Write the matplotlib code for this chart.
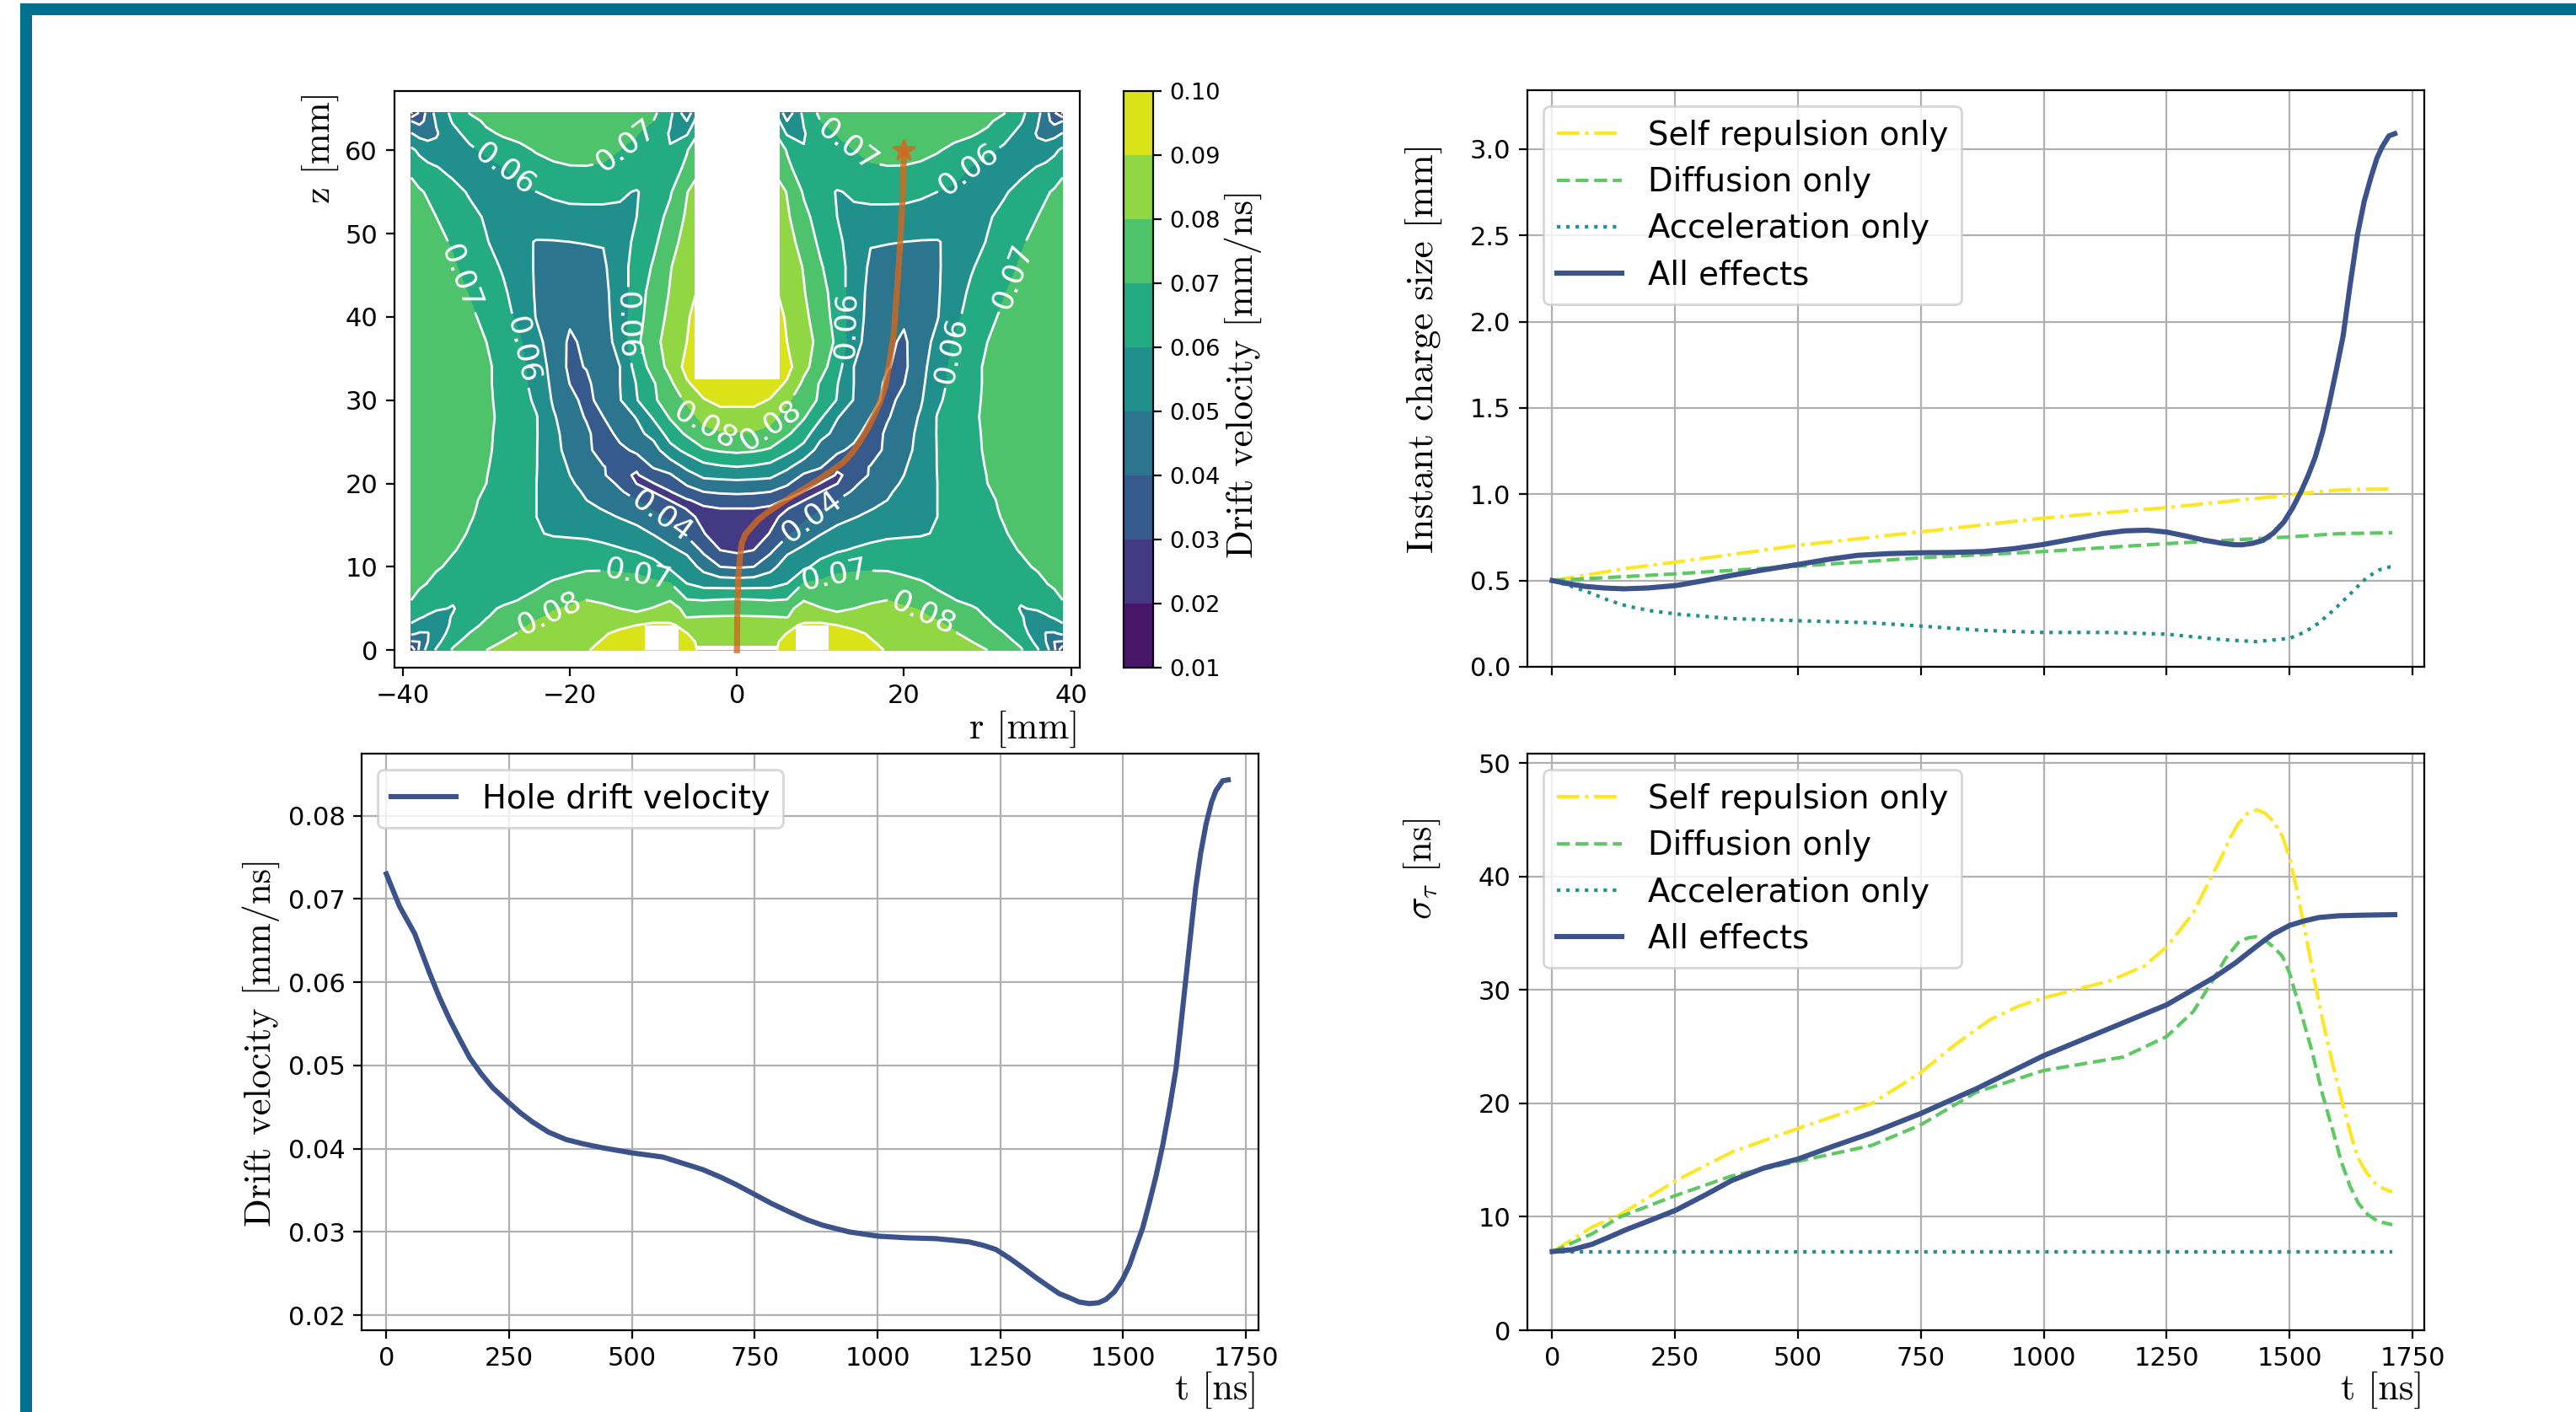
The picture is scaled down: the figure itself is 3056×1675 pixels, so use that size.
import numpy as np
import matplotlib
matplotlib.use('Agg')
import matplotlib.pyplot as plt
from matplotlib.patches import Rectangle

# drift velocity, right half only (mirrored in r), units 1e-3 mm/ns
r_half = [0, 2, 4, 6, 8, 10, 12, 14, 16, 18, 20, 22, 24, 26, 28, 30, 32, 34, 36, 37, 38, 39]
z_rows = [0, 1, 2, 3, 4, 5, 6, 8, 10, 12, 14, 16, 17, 18, 19, 20, 21, 22, 24, 26, 28, 30, 32, 34, 37, 40, 43,
          46, 49, 52, 55, 58, 60, 62, 63.5, 64.5]
v_map = [
    [85, 86, 88, 93, 95, 95, 94, 93, 92, 89.5, 88, 86.5, 85, 83.5, 81.5, 80, 76, 71, 61, 54, 43, 20],
    [84, 85, 88, 92, 94, 95, 94, 92.5, 90.5, 88.5, 87, 85.5, 84, 82, 80.3, 77, 73, 68, 57, 50, 40, 39],
    [83, 84, 86, 90.2, 94, 95, 94, 91.5, 89.3, 87.3, 85.8, 84.3, 83, 80.8, 77.5, 74, 70.3, 63, 56, 49.5, 49, 52],
    [82, 82.5, 84, 87, 91.5, 92, 90, 88.5, 87, 85.5, 84.5, 83.3, 81.5, 78.5, 75, 72, 67, 61.5, 55, 53.5, 56, 59],
    [80.5, 80.3, 80.2, 79.5, 86, 85, 83, 84.5, 85, 85, 83, 81.2, 79, 76.5, 73, 69.5, 65, 60.5, 57, 59, 61, 63],
    [77, 76.5, 75, 78, 83, 80.5, 78, 80, 81.5, 82, 81, 79.5, 77.5, 75, 71.5, 67.5, 64, 59.5, 61, 62.5, 64, 66],
    [71, 70.5, 69.8, 70.5, 79.7, 77, 75, 77, 79, 80, 78, 75.5, 72.5, 70.3, 67.5, 64.5, 61.5, 60.8, 62.5, 64, 66, 70],
    [55.5, 56, 56.5, 60, 70.5, 72, 74, 74.5, 75, 74.5, 73, 71, 68.5, 66.5, 65, 63.5, 63.5, 65, 67.5, 69.7, 72, 74],
    [39, 40, 47, 55, 58, 63.5, 67, 68, 68.5, 68.5, 67, 66, 64, 63, 63.5, 65, 66.5, 68.3, 71, 72.5, 75, 77],
    [28, 30, 38, 48, 52, 56, 59, 60.8, 62, 63, 63, 63, 62, 62, 63.5, 65.5, 68, 70.5, 73, 74.5, 76, 78],
    [22, 24, 30.5, 38, 45, 49.5, 53, 55.5, 57.5, 58.5, 59, 59.4, 60.5, 62, 64.5, 67, 69.5, 72, 74.5, 75.5, 77, 78.5],
    [25, 25.5, 27, 33, 38, 42.5, 47, 49.5, 52, 54, 55.5, 58, 60, 63, 65.7, 68.3, 70.5, 73, 75, 76, 77, 78.5],
    [30, 30, 28.5, 29.5, 35, 39, 43.5, 47, 49.5, 52, 54, 57, 60, 63.2, 66.1, 68.7, 70.8, 73.2, 75, 76, 77, 78.2],
    [36, 36, 33.5, 29, 29.7, 35.7, 40, 44, 46.5, 50, 52.5, 56, 60, 63.5, 66.5, 69, 71, 73.5, 75, 76, 77, 78],
    [41.5, 41, 40, 37, 29.5, 29.8, 36.5, 41, 45, 49, 52, 55.7, 60, 63.5, 66.8, 69.5, 71.5, 73.5, 75, 75.8, 76.8, 77.8],
    [47.5, 47, 46.5, 41, 35, 29.7, 29.8, 38.5, 43.5, 47.5, 51, 55.5, 60, 63.5, 67, 70, 72, 73.5, 75, 75.5, 76.5, 77.5],
    [53.5, 53, 52, 46.5, 39, 34.5, 29.3, 31.5, 41.5, 45.5, 50, 55.2, 60.1, 63.8, 67.2, 70.2, 72.2, 73.8, 75, 75.5, 76.2, 77.2],
    [60, 59, 57, 52, 44.5, 41, 31, 36, 40.5, 44, 49, 55, 60.2, 64, 67.5, 70.5, 72.5, 74, 75, 75.5, 76, 77],
    [72, 71, 69, 62.5, 56.5, 46, 42.5, 37, 35, 42.5, 46.5, 53.5, 60.3, 64.5, 68, 71, 73, 74.5, 75, 75.5, 76, 76.5],
    [79.5, 79, 77, 71.5, 64.5, 53, 47.5, 44, 34, 42, 46, 52.5, 60.5, 65, 68.5, 71, 73, 74.5, 75.5, 75.5, 76, 76],
    [87, 87, 83, 76, 71, 61.5, 50.5, 46, 40, 39, 45, 51, 60.5, 65.5, 69, 71, 73, 74.5, 75.5, 75.5, 76, 76],
    [92, 92, 89.5, 81.5, 75, 68.5, 59.5, 49.5, 44, 37, 43, 49, 58, 64.5, 68.5, 71, 73, 74.5, 75.5, 75.5, 76, 76],
    [94, 94, 94, 89, 78, 69, 60.5, 50, 45.5, 38, 39.8, 48, 56, 63.5, 68, 71, 73, 74.5, 75.5, 75.5, 76, 76],
    [96, 96, 96, 93, 83, 74, 64, 50, 46, 40.5, 38, 47, 55, 63, 68, 71, 73, 74.5, 75.5, 75.5, 76, 76],
    [96, 96, 96, 90, 84, 77, 68, 53.5, 46, 42, 38.5, 46, 52.5, 61, 66, 70, 72.5, 74.5, 75.5, 75.5, 76, 76],
    [95, 95, 95, 89, 82, 75.5, 66, 54.5, 47, 44, 41.5, 44.5, 49.5, 57.5, 63.5, 68, 71.5, 74, 75.5, 75.5, 76, 76],
    [93, 93, 93, 86, 80.5, 74, 65, 55, 47.5, 45.5, 44.5, 45, 49, 55.5, 61.5, 65.5, 69.5, 73, 75, 75.5, 75.5, 76],
    [92, 92, 92, 85, 79.5, 71, 64, 56, 48.5, 47.5, 47, 47.5, 49, 54, 59, 63.5, 67, 71, 74, 74.5, 75.5, 76],
    [91, 91, 91, 84, 76, 68, 62, 56, 50.5, 50.3, 50, 49.5, 49.3, 53, 56.5, 60.5, 64, 69, 72.5, 74, 75, 76],
    [90, 90, 90, 81.5, 72.5, 66, 60, 58.5, 58, 57.5, 57.5, 57.7, 57.5, 58, 58.5, 59, 62.5, 66, 70, 72, 73.5, 75],
    [89, 89, 89, 79.5, 69, 63.5, 59.5, 61, 62, 62.5, 62.3, 61, 60, 58.5, 57.5, 57.5, 59, 63, 67, 69, 71, 74],
    [80, 80, 80, 71.5, 66, 65, 66, 68, 69.3, 69.8, 69.7, 69, 67, 63.5, 60, 57, 55.5, 57, 60.3, 62, 64, 67],
    [78, 78, 78, 69.5, 60.3, 63.5, 67, 70, 72, 73, 73, 72, 70.7, 68, 66, 62, 58, 54, 53, 54.5, 58, 62],
    [75, 75, 75, 59, 59.5, 64, 70.5, 73, 74.5, 75.5, 75.5, 75, 74, 72.5, 71, 68.5, 63.5, 57, 49, 46.5, 47, 50.5],
    [72, 72, 72, 50, 60.5, 70, 72, 75, 76, 77, 77, 76.5, 76, 75, 73.5, 71.5, 67, 61, 51, 43, 37, 40],
    [70, 70, 70, 43, 63, 72, 75, 77, 78, 78.5, 78.5, 78, 77.5, 76.5, 75, 73, 70.5, 62.5, 53, 44, 31, 18],
]
levels = [0.01, 0.02, 0.03, 0.04, 0.05, 0.06, 0.07, 0.08, 0.09, 0.10]

# hole path across the map
path_r = [0, 0.05, 0.17, 0.35, 0.6, 1.0, 1.6, 2.5, 3.6, 6.3, 9.7, 12.7, 13.8, 14.7, 15.6, 16.4, 17.2, 17.8, 18.4, 18.8,
          19.4, 19.8, 20]
path_z = [0, 5, 8.9, 11, 12.9, 13.9, 14.6, 15.6, 16.5, 18.3, 20.4, 22.5, 23.7, 25, 26.5, 28.1, 30, 31.8, 35.5, 38.2,
          46.6, 53.4, 60]

# contour label spots per level
label_spots = {
    0.04: [(-9.2, 15.7), (8.8, 16.2)],
    0.06: [(-25.7, 36), (-13.1, 39), (13, 39), (25.6, 36), (-28, 57.5), (27.9, 57.5)],
    0.07: [(-32.5, 45), (32.7, 45), (-13.4, 60.6), (13.4, 60.8), (-12.1, 8.2), (12, 8.2)],
    0.08: [(-22.5, 4.6), (22.4, 4.6), (-3.7, 27), (4, 27)],
}

t_vel = [0, 27, 58, 88, 108, 129, 150, 170, 193, 217, 250, 273, 298, 330, 366, 400, 441, 500, 563, 644, 680, 712,
         750, 785, 821, 855, 889, 943, 1001, 1060, 1119, 1155, 1187, 1215, 1241, 1270, 1296, 1323, 1350, 1370,
         1391, 1410, 1431, 1450, 1465, 1482, 1499, 1513, 1526, 1540, 1553, 1567, 1581, 1595, 1608, 1618, 1628,
         1638, 1648, 1658, 1669, 1680, 1689, 1703, 1714]
drift_vel = [.0730, .0691, .0658, .0611, .0582, .0555, .0531, .0509, .0490, .0473, .0455, .0443, .0432, .0420,
             .0411, .0406, .0401, .0395, .0390, .0375, .0366, .0357, .0345, .0334, .0324, .0315, .0308, .0300,
             .0295, .0293, .0292, .0290, .0288, .0284, .0279, .0268, .0257, .0245, .0234, .0226, .0221, .0216,
             .0214, .0215, .0219, .0228, .0243, .0260, .0282, .0305, .0334, .0367, .0405, .0450, .0497, .0550,
             .0605, .0660, .0714, .0755, .0790, .0816, .0830, .0842, .0843]

t_all = [0, 30, 67, 105, 145, 195, 252, 310, 365, 430, 500, 560, 621, 685, 749, 815, 877, 940, 999, 1060, 1119,
         1165, 1211, 1250, 1289, 1325, 1360, 1385, 1403, 1425, 1446, 1467, 1488, 1506, 1524, 1538, 1552, 1567,
         1581, 1595, 1609, 1623, 1638, 1652, 1666, 1678, 1688, 1702, 1714]
size_all = [.5, .483, .466, .457, .452, .457, .471, .5, .53, .562, .593, .622, .646, .656, .661, .663, .668, .685,
            .709, .741, .772, .788, .792, .781, .758, .735, .717, .708, .707, .716, .733, .775, .838, .92, 1.02,
            1.11, 1.214, 1.36, 1.53, 1.72, 1.919, 2.21, 2.502, 2.70, 2.842, 2.95, 3.012, 3.077, 3.09]
t_self = [0, 152, 252, 500, 749, 999, 1250, 1500, 1550, 1602, 1650, 1709]
size_self = [.5, .571, .607, .704, .782, .862, .923, .996, 1.012, 1.025, 1.029, 1.03]
t_diff = [0, 252, 500, 749, 999, 1250, 1500, 1602, 1709]
size_diff = [.5, .539, .583, .632, .668, .714, .753, .772, .777]
t_acc = [0, 40, 81, 115, 152, 200, 252, 365, 500, 650, 749, 877, 999, 1133, 1250, 1360, 1431, 1500, 1530, 1560,
         1590, 1616, 1640, 1659, 1685, 1709]
size_acc = [.5, .465, .425, .385, .352, .325, .306, .279, .267, .255, .236, .211, .199, .199, .189, .158, .146,
            .165, .2, .255, .33, .401, .47, .522, .565, .583]

t_sig_all = [0, 40, 81, 115, 152, 200, 252, 310, 365, 430, 500, 570, 650, 749, 863, 999, 1105, 1250, 1346, 1390,
             1431, 1465, 1500, 1530, 1560, 1600, 1645, 1714]
sig_all = [6.94, 7.1, 7.58, 8.2, 8.9, 9.7, 10.6, 11.9, 13.2, 14.3, 15.1, 16.2, 17.4, 19.1, 21.3, 24.2, 26.1, 28.7,
           31.1, 32.4, 33.8, 34.9, 35.7, 36.1, 36.4, 36.55, 36.6, 36.65]
t_sig_self = [0, 81, 138, 252, 365, 500, 650, 749, 820, 891, 950, 999, 1133, 1204, 1250, 1304, 1333, 1361, 1380,
              1396, 1415, 1434, 1450, 1467, 1485, 1500, 1515, 1531, 1550, 1567, 1588, 1609, 1625, 1638, 1655, 1673,
              1690, 1709]
sig_self = [6.9, 9.1, 10.2, 13.2, 15.7, 17.8, 20, 22.7, 25.2, 27.4, 28.6, 29.3, 30.8, 32.1, 33.8, 36.8, 39.3, 41.7,
            43.5, 44.7, 45.6, 45.9, 45.6, 44.9, 43.6, 41.7, 38.8, 35.3, 31, 27.4, 23.4, 19.8, 17.2, 15.3, 14, 13,
            12.5, 12.2]
t_sig_diff = [0, 81, 138, 252, 365, 500, 650, 749, 863, 999, 1162, 1250, 1304, 1346, 1370, 1396, 1415, 1431, 1450,
              1467, 1485, 1500, 1522, 1545, 1567, 1588, 1605, 1623, 1640, 1659, 1680, 1709]
sig_diff = [6.9, 8.5, 10, 11.9, 13.6, 14.9, 16.3, 18.1, 21, 22.9, 24.1, 25.9, 28.1, 31, 32.8, 34.2, 34.6, 34.7, 34.4,
            33.8, 33, 31.5, 28.2, 24.7, 20.8, 17.6, 14.9, 12.7, 11.2, 10.2, 9.6, 9.3]
t_sig_acc = [0, 1709]
sig_acc = [6.9, 6.9]

W, H = 3056, 1675
dpi = 200
plt.rcParams['mathtext.fontset'] = 'cm'
plt.rcParams['font.size'] = 11
plt.rcParams['axes.linewidth'] = 0.8
plt.rcParams['axes.unicode_minus'] = True
plt.rcParams['legend.labelspacing'] = 0.45

fig = plt.figure(figsize=(W / dpi, H / dpi), dpi=dpi)
frame = '#00708f'
fig.add_artist(Rectangle((24 / W, 1 - 18 / H), 1 - 24 / W, 14 / H, transform=fig.transFigure, color=frame, lw=0))
fig.add_artist(Rectangle((24 / W, 0), 14 / W, 1 - 4 / H, transform=fig.transFigure, color=frame, lw=0))


def pix_axes(x0, x1, y0, y1):
    return fig.add_axes([x0 / W, 1 - y1 / H, (x1 - x0) / W, (y1 - y0) / H])


serif = 'cmr10'
lab = 16
leg = 13.9
c_self, c_diff, c_acc, c_all = '#fde725', '#5ec962', '#21918c', '#3b528b'

# drift velocity map
ax = pix_axes(467.5, 1281, 108, 792)
half = np.array(v_map) / 1000.0
rr = np.concatenate([-np.array(r_half[:0:-1]), r_half])
vv = np.hstack([half[:, :0:-1], half])
cf = ax.contourf(rr, z_rows, vv, levels=levels, cmap='viridis')
ax.set_xlim(-41.05, 41.05)
ax.set_ylim(-2.1, 67.1)
for lev in levels:
    cl = ax.contour(rr, z_rows, vv, levels=[lev], colors='white', linewidths=1.0)
    if lev in label_spots:
        ax.clabel(cl, manual=label_spots[lev], inline=True, fmt='%.2f', fontsize=13, colors='white')
for x0, z0, w, h in [(-5.1, 32.5, 10.2, 32.2), (-4.8, 0, 9.6, 0.5), (-11, 0, 4, 3), (7, 0, 4, 3)]:
    ax.add_patch(Rectangle((x0, z0), w, h, color='white', lw=0, zorder=2.5))
ax.plot(path_r, path_z, color='chocolate', alpha=0.8, lw=2.6, zorder=4)
ax.plot(path_r[-1], path_z[-1], '*', color='chocolate', alpha=0.8, ms=9.5, zorder=4)
ax.set_xticks([-40, -20, 0, 20, 40])
ax.set_yticks([0, 10, 20, 30, 40, 50, 60])
ax.set_xlabel('r [mm]', family=serif, fontsize=lab, loc='right', labelpad=1)
ax.set_ylabel('z [mm]', family=serif, fontsize=lab, loc='top')
ax.yaxis.set_label_coords(-0.081, 1.0)

cax = pix_axes(1333, 1368, 108, 792)
cb = fig.colorbar(cf, cax=cax, ticks=levels)
cb.ax.tick_params(labelsize=9.8)
cb.ax.set_yticklabels(['%.2f' % v for v in levels])
cb.set_label('Drift velocity [mm/ns]', family=serif, fontsize=lab, labelpad=1.5, y=0.51)

# instant charge size
ax2 = pix_axes(1812, 2876, 107, 791)
ax2.plot(t_self, size_self, '-.', color=c_self, lw=1.5, label='Self repulsion only')
ax2.plot(t_diff, size_diff, '--', color=c_diff, lw=1.5, label='Diffusion only')
ax2.plot(t_acc, size_acc, ':', color=c_acc, lw=1.5, label='Acceleration only')
ax2.plot(t_all, size_all, '-', color=c_all, lw=2.2, label='All effects')
ax2.set_xlim(-50.5, 1774)
ax2.set_ylim(0, 3.342)
ax2.set_xticks(range(0, 1751, 250))
ax2.set_xticklabels([])
ax2.set_ylabel('Instant charge size [mm]', family=serif, fontsize=16.3)
ax2.yaxis.set_label_coords(-0.0945, 0.553)
ax2.grid(True)
ax2.legend(loc='upper left', fontsize=leg)

# hole drift velocity
ax3 = pix_axes(429, 1493, 894, 1578)
ax3.plot(t_vel, drift_vel, color=c_all, lw=2.2, label='Hole drift velocity')
ax3.set_xlim(-50.3, 1775.7)
ax3.set_ylim(0.0182, 0.08745)
ax3.set_xticks(range(0, 1751, 250))
ax3.set_xlabel('t [ns]', family=serif, fontsize=lab, loc='right', labelpad=0)
ax3.set_ylabel('Drift velocity [mm/ns]', family=serif, fontsize=lab)
ax3.yaxis.set_label_coords(-0.091, 0.5)
ax3.grid(True)
ax3.legend(loc='upper left', fontsize=leg)

# sigma tau
ax4 = pix_axes(1812, 2876, 894, 1578)
ax4.plot(t_sig_self, sig_self, '-.', color=c_self, lw=1.5, label='Self repulsion only')
ax4.plot(t_sig_diff, sig_diff, '--', color=c_diff, lw=1.5, label='Diffusion only')
ax4.plot(t_sig_acc, sig_acc, ':', color=c_acc, lw=1.5, label='Acceleration only')
ax4.plot(t_sig_all, sig_all, '-', color=c_all, lw=2.2, label='All effects')
ax4.set_xlim(-50.5, 1774)
ax4.set_ylim(0, 50.85)
ax4.set_xticks(range(0, 1751, 250))
ax4.set_xlabel('t [ns]', family=serif, fontsize=lab, loc='right', labelpad=0)
ax4.set_ylabel(r'$\sigma_\tau$ [ns]', family=serif, fontsize=lab)
ax4.yaxis.set_label_coords(-0.0945, 0.80)
ax4.grid(True)
ax4.legend(loc='upper left', fontsize=leg)

fig.savefig('out.png', dpi=dpi)
